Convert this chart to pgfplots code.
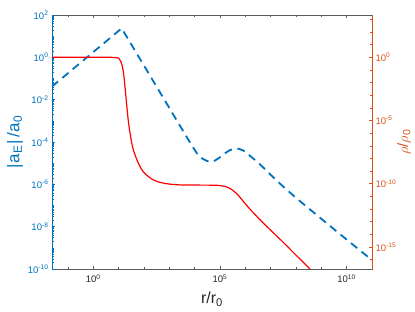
\documentclass[border=0pt]{standalone}
\usepackage{pgfplots}
\pgfplotsset{compat=1.18}
\usepackage{pgfplotstable}
\usepackage{fontspec}
\setmainfont{Liberation Sans}
\definecolor{mblue}{RGB}{0,114,189}
\definecolor{morange}{RGB}{217,83,25}
\definecolor{mgray}{RGB}{38,38,38}

\def\yminorlist{1e-9,1e-7,1e-5,1e-3,1e-1,1e1}
\foreach \e in {-10,...,1}{\foreach \m in {2,...,9}{\xdef\yminorlist{\yminorlist,\m e\e}}}

\pgfplotstableread{
r a
0.02344 0.04169
10 17.78
13.18 23.44
15.85 16.22
100 0.4074
1000 4.074e-3
3162 4.074e-4
7943 6.457e-5
12589 2.818e-5
19953 1.660e-5
31623 1.259e-5
44668 1.175e-5
63096 1.318e-5
1e5 1.905e-5
1.585e5 2.951e-5
2.512e5 4.169e-5
3.981e5 4.898e-5
5.623e5 4.786e-5
8.913e5 3.802e-5
1.585e6 2.138e-5
3.162e6 1.072e-5
6.310e6 4.898e-6
1.585e7 1.660e-6
3.162e7 7.762e-7
1e8 2.291e-7
1e9 2.344e-8
1e10 2.455e-9
1e11 2.630e-10
}\bluedata

\pgfplotstableread{
r rho
0.02344 1
3.981 1
6.310 0.977
8.913 0.912
10 0.85
11.22 0.62
12.59 0.40
14.13 0.1778
15.85 0.045
17.78 5.012e-3
20.89 1.585e-4
23.99 1e-5
28.18 1e-6
33.11 1.585e-7
38.02 4.786e-8
47.86 1.259e-8
60.26 4.169e-9
79.43 1.413e-9
109.6 6.310e-10
199.5 2.399e-10
398.1 1.318e-10
1000 9.333e-11
3162 7.943e-11
63096 7.586e-11
1.259e5 6.607e-11
1.995e5 5.248e-11
2.818e5 3.548e-11
3.981e5 2.089e-11
5.623e5 1.047e-11
8.318e5 3.981e-12
1.585e6 8.913e-13
5.012e6 7.943e-14
2.512e7 3.548e-15
1e8 2.239e-16
3.981e8 1.413e-17
}\reddata

\begin{document}
\begin{tikzpicture}
\path[use as bounding box] (-52pt,-43pt) rectangle (363pt,269pt);
% frame and x axis
\begin{axis}[
  scale only axis, width=320pt, height=254pt,
  xmode=log, ymode=log,
  xmin=0.02344, xmax=1e11,
  tick align=inside,
  major tick length=3pt, minor tick length=1.8pt,
  ticklabel style={font=\fontsize{9.5}{11}\selectfont},
  label style={font=\fontsize{16}{19}\selectfont},
  ymin=1e-10, ymax=1e2,
  axis line style={mgray!75, line width=0.5pt},
  xtick={1,1e5,1e10},
  xticklabels={10\textsuperscript{0},10\textsuperscript{5},10\textsuperscript{10}},
  minor xtick={1e-1,1e1,1e2,1e3,1e4,1e6,1e7,1e8,1e9},
  xtick pos=both,
  x tick style={mgray!75, line width=0.5pt},
  xticklabel style={mgray, yshift=-2pt},
  ytick=\empty, minor ytick={},
  xlabel={r/r\textsubscript{0}},
  xlabel style={mgray, yshift=-2pt},
]
\end{axis}
% left axis
\begin{axis}[
  scale only axis, width=320pt, height=254pt,
  xmode=log, ymode=log,
  xmin=0.02344, xmax=1e11,
  tick align=inside,
  major tick length=3pt, minor tick length=1.8pt,
  ticklabel style={font=\fontsize{9.5}{11}\selectfont},
  label style={font=\fontsize{17}{20}\selectfont},
  axis y line*=left, axis x line=none,
  xtick=\empty,
  ymin=1e-10, ymax=1e2,
  y axis line style={mblue, line width=0.5pt},
  ytick={1e-10,1e-8,1e-6,1e-4,1e-2,1,1e2},
  yticklabels={10\textsuperscript{-10},10\textsuperscript{-8},10\textsuperscript{-6},10\textsuperscript{-4},10\textsuperscript{-2},10\textsuperscript{0},10\textsuperscript{2}},
  minor ytick/.expanded={\yminorlist},
  y tick style={mblue, line width=0.5pt},
  yticklabel style={mblue},
  ylabel={|\kern1pt a\textsubscript{E}\kern1pt|\kern2pt/\kern1pt a\textsubscript{0}},
  ylabel style={mblue, yshift=-2pt},
]
\addplot[mblue, line width=1.8pt, dash pattern=on 8pt off 5.5pt] table[x=r, y=a] {\bluedata};
\end{axis}
% right axis
\begin{axis}[
  scale only axis, width=320pt, height=254pt,
  xmode=log, ymode=log,
  xmin=0.02344, xmax=1e11,
  tick align=inside,
  major tick length=3pt, minor tick length=1.8pt,
  ticklabel style={font=\fontsize{9.5}{11}\selectfont},
  label style={font=\fontsize{15}{18}\selectfont},
  axis y line*=right, axis x line=none,
  xtick=\empty,
  ymin=1.778e-17, ymax=2239,
  y axis line style={morange, line width=0.5pt},
  ytick={1e-15,1e-10,1e-5,1},
  yticklabels={10\textsuperscript{-15},10\textsuperscript{-10},10\textsuperscript{-5},10\textsuperscript{0}},
  minor ytick={1e-16,1e-14,1e-13,1e-12,1e-11,1e-9,1e-8,1e-7,1e-6,1e-4,1e-3,1e-2,1e-1,1e1,1e2,1e3},
  y tick style={morange, line width=0.5pt},
  yticklabel style={morange},
  ylabel={$\rho$/$\rho$\textsubscript{0}},
  ylabel style={morange, at={(axis description cs:1.1,0.5)}, anchor=center},
]
\addplot[red, line width=1.2pt, smooth, tension=0.4] table[x=r, y=rho] {\reddata};
\end{axis}
\end{tikzpicture}
\end{document}
